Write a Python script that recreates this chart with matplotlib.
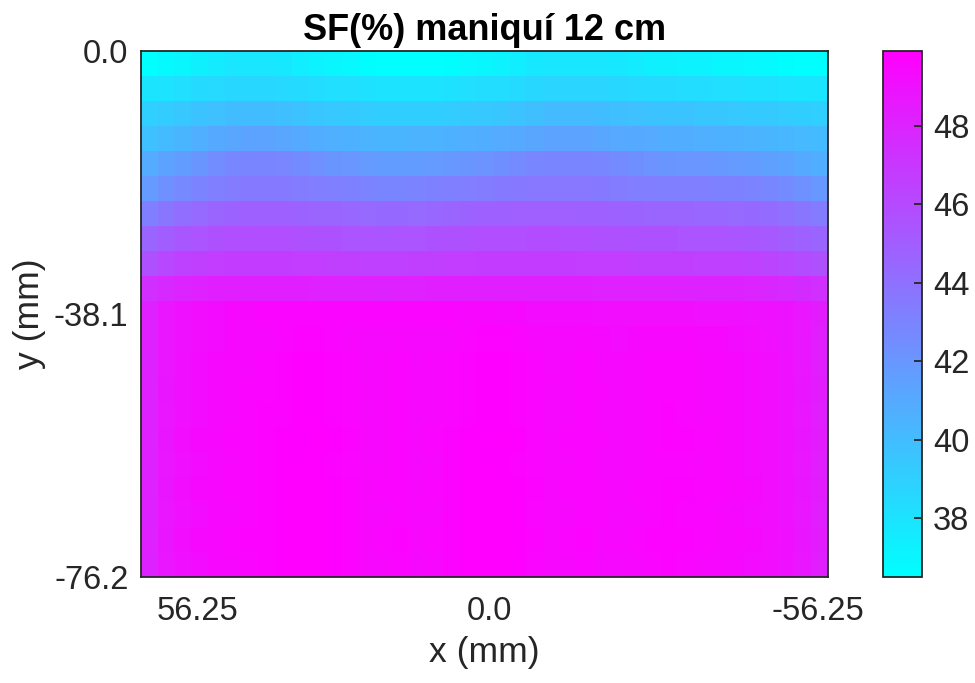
import numpy as np
import matplotlib
matplotlib.use('Agg')
import matplotlib.pyplot as plt

# ============================================================
# Data (SF % per cell, 21 depth rows x 41 columns)
# ============================================================
x_limits = [56.25, -56.25]           # mm, left -> right
y_limits = [0.0, -76.2]              # mm, top -> bottom
# the x labels in the reference sit slightly inside the image edges
x_tick_positions = [47.0, -0.8, -54.6]
x_tick_labels = ['56.25', '0.0', '-56.25']
y_tick_positions = [0.0, -38.1, -76.2]
y_tick_labels = ['0.0', '-38.1', '-76.2']
cbar_ticks = [38, 40, 42, 44, 46, 48]

sf_grid = [
    [36.5, 36.8, 37.0, 37.3, 37.5, 37.8, 37.8, 37.8, 37.7, 37.4, 37.2, 37.0, 36.9, 36.6, 36.5, 36.5, 36.5, 36.5, 36.6, 36.9, 37.0, 37.2, 37.4, 37.7, 37.8, 37.8, 37.8, 37.8, 37.7, 37.5, 37.3, 37.3, 37.2, 37.2, 37.0, 37.0, 36.9, 36.8, 36.6, 36.5, 36.5],
    [37.9, 38.0, 38.2, 38.4, 38.5, 38.6, 38.6, 38.6, 38.5, 38.4, 38.3, 38.2, 38.2, 38.1, 38.0, 38.0, 38.0, 38.0, 38.1, 38.2, 38.3, 38.3, 38.4, 38.6, 38.7, 38.7, 38.7, 38.7, 38.6, 38.5, 38.4, 38.4, 38.3, 38.3, 38.2, 38.2, 38.1, 38.1, 38.0, 37.9, 37.9],
    [39.0, 39.2, 39.4, 39.6, 39.8, 40.0, 40.0, 40.0, 39.9, 39.7, 39.5, 39.4, 39.3, 39.2, 39.1, 39.1, 39.1, 39.1, 39.2, 39.3, 39.4, 39.5, 39.7, 39.9, 40.1, 40.1, 40.1, 40.0, 39.9, 39.8, 39.7, 39.6, 39.6, 39.5, 39.5, 39.4, 39.3, 39.3, 39.2, 39.1, 39.0],
    [39.8, 40.1, 40.4, 40.7, 41.0, 41.2, 41.3, 41.3, 41.2, 41.0, 40.8, 40.7, 40.6, 40.5, 40.4, 40.4, 40.5, 40.5, 40.6, 40.7, 40.8, 40.9, 41.0, 41.2, 41.3, 41.3, 41.3, 41.2, 41.1, 41.0, 40.9, 40.8, 40.8, 40.7, 40.6, 40.6, 40.5, 40.4, 40.3, 40.2, 40.1],
    [40.9, 41.3, 41.7, 42.1, 42.5, 42.8, 42.9, 42.9, 42.8, 42.6, 42.3, 42.1, 42.0, 41.8, 41.7, 41.7, 41.7, 41.8, 41.9, 42.1, 42.2, 42.4, 42.6, 42.8, 42.9, 42.9, 42.9, 42.8, 42.6, 42.4, 42.2, 42.1, 42.0, 42.0, 41.9, 41.8, 41.7, 41.5, 41.3, 41.0, 40.8],
    [41.8, 42.3, 42.7, 43.0, 43.2, 43.4, 43.5, 43.5, 43.5, 43.4, 43.3, 43.2, 43.1, 43.0, 42.9, 42.9, 43.0, 43.1, 43.2, 43.3, 43.4, 43.5, 43.5, 43.6, 43.6, 43.6, 43.6, 43.5, 43.4, 43.3, 43.3, 43.2, 43.2, 43.2, 43.1, 43.1, 43.0, 42.8, 42.6, 42.3, 41.9],
    [43.2, 43.7, 44.1, 44.4, 44.6, 44.7, 44.8, 44.8, 44.8, 44.7, 44.6, 44.6, 44.5, 44.4, 44.3, 44.3, 44.4, 44.5, 44.6, 44.7, 44.8, 44.8, 44.9, 44.9, 44.9, 44.9, 44.8, 44.8, 44.7, 44.7, 44.6, 44.6, 44.6, 44.5, 44.5, 44.4, 44.3, 44.2, 44.0, 43.7, 43.4],
    [44.6, 45.0, 45.3, 45.5, 45.7, 45.8, 45.8, 45.8, 45.8, 45.7, 45.6, 45.6, 45.5, 45.5, 45.4, 45.5, 45.5, 45.6, 45.7, 45.7, 45.8, 45.8, 45.8, 45.9, 45.9, 45.8, 45.8, 45.7, 45.7, 45.6, 45.6, 45.6, 45.5, 45.5, 45.5, 45.4, 45.3, 45.2, 45.0, 44.8, 44.6],
    [45.7, 46.1, 46.4, 46.6, 46.7, 46.8, 46.8, 46.8, 46.8, 46.7, 46.7, 46.6, 46.6, 46.5, 46.5, 46.5, 46.6, 46.6, 46.7, 46.7, 46.8, 46.8, 46.8, 46.8, 46.8, 46.8, 46.7, 46.7, 46.7, 46.6, 46.6, 46.6, 46.6, 46.5, 46.5, 46.5, 46.4, 46.3, 46.1, 45.9, 45.7],
    [47.4, 47.8, 48.0, 48.2, 48.3, 48.3, 48.3, 48.3, 48.3, 48.3, 48.2, 48.2, 48.2, 48.2, 48.1, 48.2, 48.2, 48.3, 48.3, 48.3, 48.3, 48.3, 48.3, 48.3, 48.3, 48.3, 48.3, 48.2, 48.2, 48.2, 48.2, 48.2, 48.1, 48.1, 48.1, 48.1, 48.0, 47.9, 47.8, 47.6, 47.4],
    [48.2, 48.7, 49.0, 49.2, 49.3, 49.4, 49.5, 49.6, 49.6, 49.6, 49.6, 49.6, 49.6, 49.6, 49.6, 49.6, 49.6, 49.6, 49.6, 49.5, 49.5, 49.4, 49.4, 49.3, 49.3, 49.3, 49.3, 49.2, 49.2, 49.2, 49.2, 49.2, 49.2, 49.1, 49.1, 49.1, 49.0, 49.0, 48.9, 48.7, 48.4],
    [48.2, 48.7, 49.0, 49.2, 49.3, 49.4, 49.5, 49.5, 49.6, 49.7, 49.7, 49.6, 49.5, 49.4, 49.4, 49.5, 49.4, 49.4, 49.5, 49.6, 49.7, 49.7, 49.6, 49.5, 49.4, 49.4, 49.5, 49.4, 49.3, 49.4, 49.5, 49.5, 49.5, 49.4, 49.4, 49.3, 49.2, 49.1, 48.9, 48.7, 48.3],
    [48.1, 48.7, 49.1, 49.3, 49.4, 49.5, 49.5, 49.6, 49.7, 49.8, 49.8, 49.7, 49.6, 49.4, 49.5, 49.6, 49.4, 49.5, 49.6, 49.7, 49.8, 49.8, 49.7, 49.6, 49.4, 49.5, 49.6, 49.4, 49.4, 49.5, 49.6, 49.6, 49.6, 49.5, 49.5, 49.4, 49.3, 49.2, 49.0, 48.7, 48.3],
    [48.2, 48.8, 49.1, 49.3, 49.4, 49.5, 49.6, 49.6, 49.7, 49.8, 49.8, 49.7, 49.6, 49.5, 49.5, 49.6, 49.5, 49.5, 49.6, 49.7, 49.8, 49.8, 49.7, 49.6, 49.5, 49.5, 49.6, 49.5, 49.4, 49.5, 49.6, 49.6, 49.6, 49.5, 49.5, 49.4, 49.3, 49.2, 49.0, 48.8, 48.4],
    [48.1, 48.7, 49.1, 49.3, 49.4, 49.5, 49.6, 49.7, 49.7, 49.8, 49.8, 49.7, 49.6, 49.4, 49.5, 49.6, 49.4, 49.5, 49.6, 49.7, 49.8, 49.8, 49.7, 49.6, 49.4, 49.5, 49.6, 49.4, 49.4, 49.5, 49.6, 49.7, 49.6, 49.5, 49.5, 49.4, 49.3, 49.2, 49.0, 48.7, 48.3],
    [48.2, 48.8, 49.2, 49.4, 49.5, 49.6, 49.6, 49.7, 49.8, 49.8, 49.9, 49.8, 49.7, 49.5, 49.5, 49.6, 49.5, 49.6, 49.7, 49.8, 49.8, 49.9, 49.8, 49.6, 49.5, 49.6, 49.6, 49.5, 49.4, 49.5, 49.6, 49.7, 49.7, 49.6, 49.5, 49.4, 49.3, 49.2, 49.0, 48.8, 48.4],
    [48.1, 48.7, 49.1, 49.3, 49.4, 49.5, 49.6, 49.7, 49.8, 49.8, 49.8, 49.7, 49.6, 49.5, 49.5, 49.6, 49.4, 49.5, 49.7, 49.8, 49.8, 49.8, 49.7, 49.6, 49.5, 49.5, 49.6, 49.4, 49.4, 49.5, 49.6, 49.6, 49.6, 49.5, 49.5, 49.4, 49.3, 49.2, 49.0, 48.7, 48.3],
    [48.2, 48.8, 49.2, 49.4, 49.5, 49.6, 49.6, 49.7, 49.8, 49.9, 49.9, 49.8, 49.7, 49.5, 49.6, 49.6, 49.5, 49.6, 49.7, 49.8, 49.9, 49.9, 49.8, 49.7, 49.5, 49.6, 49.6, 49.5, 49.5, 49.6, 49.6, 49.7, 49.7, 49.6, 49.6, 49.5, 49.4, 49.2, 49.0, 48.8, 48.4],
    [48.1, 48.7, 49.1, 49.3, 49.5, 49.5, 49.6, 49.7, 49.8, 49.9, 49.9, 49.8, 49.7, 49.5, 49.5, 49.6, 49.5, 49.5, 49.7, 49.8, 49.9, 49.9, 49.8, 49.6, 49.5, 49.5, 49.6, 49.5, 49.4, 49.5, 49.6, 49.7, 49.6, 49.6, 49.5, 49.4, 49.3, 49.2, 49.0, 48.7, 48.3],
    [48.2, 48.8, 49.2, 49.4, 49.5, 49.6, 49.7, 49.7, 49.8, 49.9, 49.9, 49.8, 49.7, 49.5, 49.6, 49.7, 49.5, 49.6, 49.7, 49.8, 49.9, 49.9, 49.8, 49.7, 49.5, 49.6, 49.7, 49.5, 49.5, 49.6, 49.7, 49.7, 49.7, 49.6, 49.5, 49.5, 49.4, 49.2, 49.1, 48.8, 48.4],
    [48.1, 48.7, 49.1, 49.3, 49.5, 49.5, 49.6, 49.7, 49.8, 49.9, 49.9, 49.8, 49.7, 49.5, 49.5, 49.6, 49.4, 49.5, 49.7, 49.8, 49.9, 49.9, 49.8, 49.6, 49.5, 49.5, 49.6, 49.4, 49.4, 49.5, 49.6, 49.7, 49.6, 49.5, 49.5, 49.4, 49.3, 49.2, 49.0, 48.7, 48.3],
]
# ============================================================

sf = np.array(sf_grid)
assert sf.shape == (21, 41), sf.shape

plt.rcParams['font.family'] = ['Liberation Sans', 'DejaVu Sans']
text_color = '#262626'
tick_size = 23.5

fig = plt.figure(figsize=(9.75, 6.83), dpi=100)
ax = fig.add_axes([0.1446, 0.1552, 0.7046, 0.7701])

im = ax.imshow(sf, cmap='cool', aspect='auto', interpolation='nearest',
               extent=[x_limits[0], x_limits[1], y_limits[1], y_limits[0]],
               vmin=sf.min(), vmax=sf.max())
ax.set_xlim(x_limits)
ax.set_ylim(y_limits[1], y_limits[0])

ax.set_xticks(x_tick_positions)
ax.set_xticklabels(x_tick_labels)
ax.set_yticks(y_tick_positions)
ax.set_yticklabels(y_tick_labels)
ax.tick_params(axis='x', length=0, pad=14, labelsize=tick_size, labelcolor=text_color)
ax.tick_params(axis='y', length=0, pad=9, labelsize=tick_size, labelcolor=text_color)
for sp in ax.spines.values():
    sp.set_color(text_color)
    sp.set_linewidth(1.3)

ax.set_xlabel('x (mm)', fontsize=25.5, color=text_color, labelpad=6)
ax.set_ylabel('y (mm)', fontsize=25.5, color=text_color, labelpad=6)
ax.set_title('SF(%) maniquí 12 cm', fontsize=26, fontweight='bold', color='black', pad=8)

cax = fig.add_axes([0.9056, 0.1552, 0.04, 0.7701])
cb = fig.colorbar(im, cax=cax)
cb.set_ticks(cbar_ticks)
cax.tick_params(direction='in', length=6, width=1.3, labelsize=tick_size,
                color=text_color, labelcolor=text_color, pad=8)
cb.outline.set_edgecolor(text_color)
cb.outline.set_linewidth(1.3)

fig.savefig('out.png', dpi=100)
